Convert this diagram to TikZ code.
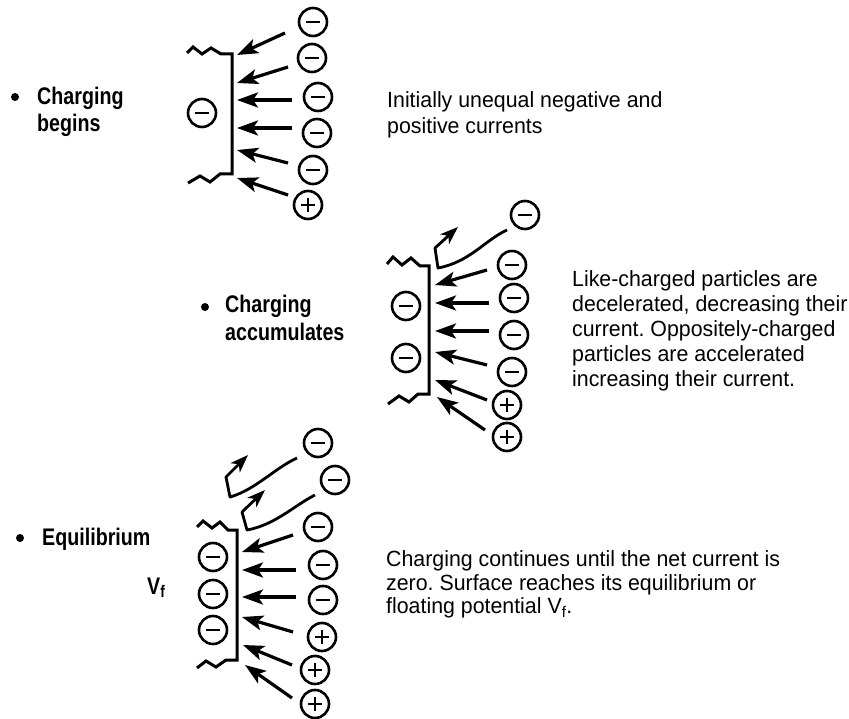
\documentclass[tikz,border=0pt]{standalone}
\usepackage{fontspec}
\setmainfont{Liberation Sans}
\newfontfamily\labfont{Liberation Sans}[FakeStretch=0.82]
\newfontfamily\descfont{Liberation Sans}[FakeStretch=0.97]
\usetikzlibrary{arrows.meta}
\frenchspacing
\begin{document}
\begin{tikzpicture}[x=1pt,y=-1pt,
  wall/.style={line width=3pt, line join=miter},
  flux/.style={line width=3.2pt, -{Stealth[length=21pt,width=15pt,inset=5pt]}},
  bounce/.style={line width=2.8pt, line join=round, -{Stealth[length=18pt,width=13pt,inset=5pt]}},
  negq/.style={circle, draw, line width=2.6pt, minimum size=28pt, inner sep=0pt,
    path picture={\draw[line width=2.3pt] ([xshift=-7pt]path picture bounding box.center) -- ([xshift=7pt]path picture bounding box.center);}},
  posq/.style={circle, draw, line width=2.6pt, minimum size=28pt, inner sep=0pt,
    path picture={\draw[line width=2.3pt] ([xshift=-7pt]path picture bounding box.center) -- ([xshift=7pt]path picture bounding box.center);
                  \draw[line width=2.3pt] ([yshift=-7pt]path picture bounding box.center) -- ([yshift=7pt]path picture bounding box.center);}},
  desc/.style={anchor=base west, inner sep=0pt, font=\descfont\fontsize{22}{26}\selectfont},
  lab/.style={anchor=base west, inner sep=0pt, font=\labfont\bfseries\fontsize{24}{28}\selectfont},
  dot/.style={circle, fill, inner sep=0pt, minimum size=8pt}
]
\useasboundingbox (0,0) rectangle (849,719);

% ---------------- Panel 1: charging begins ----------------
\draw[wall] (187,53) -- (193,47) -- (202,54) -- (211,48) -- (221,54) -- (232,54)
  -- (232,174) -- (220,174) -- (210,182) -- (200,176) -- (188,183);
\node[negq] (s1) at (202,113) {};
\node[negq] (c1a) at (313,22) {};
\node[negq] (c1b) at (312,58) {};
\node[negq] (c1c) at (318,97) {};
\node[negq] (c1d) at (317,133) {};
\node[negq] (c1e) at (313,170) {};
\node[posq] (c1f) at (308,205) {};
\foreach \i/\ax/\ay/\bx/\by in {1a/285/33/237/55, 1b/288/67/237/83,
    1c/292/100/237/100, 1d/292/128/237/128,
    1e/288/163/237/150, 1f/288/195/237/178}
  {\coordinate (f\i) at (\ax,\ay); \coordinate (t\i) at (\bx,\by); \draw[flux] (f\i) -- (t\i);}

\node[dot] (b1) at (15,97) {};
\node[lab] (l1a) at (37,105) {Charging};
\node[lab] (l1b) at (37,132) {begins};
\node[desc] (d1a) at (387,108) {Initially unequal negative and};
\node[desc] (d1b) at (387,134) {positive currents};

% ---------------- Panel 2: charging accumulates ----------------
\draw[wall] (387,264) -- (393,257) -- (402,265) -- (411,258) -- (420,266) -- (429,266)
  -- (429,394) -- (418,394) -- (409,402) -- (399,396) -- (388,404);
\node[negq] (s2a) at (406,306) {};
\node[negq] (s2b) at (406,358) {};
\node[negq] (c2a) at (525,215) {};
\node[negq] (c2b) at (512,265) {};
\node[negq] (c2c) at (514,298) {};
\node[negq] (c2d) at (514,335) {};
\node[negq] (c2e) at (512,372) {};
\node[posq] (c2f) at (507,405) {};
\node[posq] (c2g) at (507,437) {};
\coordinate (r2s) at (507,230);
\coordinate (r2m) at (438,268);
\coordinate (r2k) at (435,248);
\coordinate (r2e) at (458,227);
\draw[bounce] (r2s) .. controls (485,240) and (470,262) .. (r2m) -- (r2k) -- (r2e);
\foreach \i/\ax/\ay/\bx/\by in {2b/487/270/435/285, 2c/489/303/435/303,
    2d/489/331/435/331, 2e/487/365/435/352,
    2f/487/400/435/380, 2g/485/430/437/397}
  {\coordinate (f\i) at (\ax,\ay); \coordinate (t\i) at (\bx,\by); \draw[flux] (f\i) -- (t\i);}

\node[dot] (b2) at (205,307) {};
\node[lab] (l2a) at (225,313) {Charging};
\node[lab] (l2b) at (225,341) {accumulates};
\node[desc] (d2a) at (572,287) {Like-charged particles are};
\node[desc] (d2b) at (572,312) {decelerated, decreasing their};
\node[desc] (d2c) at (572,337) {current. Oppositely-charged};
\node[desc] (d2d) at (572,362) {particles are accelerated};
\node[desc] (d2e) at (572,387) {increasing their current.};

% ---------------- Panel 3: equilibrium ----------------
\draw[wall] (197,527) -- (203,521) -- (212,528) -- (220,522) -- (228,530) -- (237,530)
  -- (237,660) -- (226,660) -- (216,667) -- (206,661) -- (197,668);
\node[negq] (s3a) at (213,557) {};
\node[negq] (s3b) at (213,594) {};
\node[negq] (s3c) at (213,630) {};
\node[negq] (c3a) at (318,443) {};
\node[negq] (c3b) at (335,480) {};
\node[negq] (c3c) at (318,527) {};
\node[negq] (c3d) at (323,565) {};
\node[negq] (c3e) at (323,600) {};
\node[posq] (c3f) at (322,637) {};
\node[posq] (c3g) at (315,670) {};
\node[posq] (c3h) at (315,704) {};
\coordinate (r3as) at (297,458);
\coordinate (r3am) at (230,497);
\coordinate (r3ak) at (226,477);
\coordinate (r3ae) at (248,455);
\draw[bounce] (r3as) .. controls (275,468) and (255,490) .. (r3am) -- (r3ak) -- (r3ae);
\coordinate (r3bs) at (315,495);
\coordinate (r3bm) at (247,530);
\coordinate (r3bk) at (242,512);
\coordinate (r3be) at (265,490);
\draw[bounce] (r3bs) .. controls (295,505) and (275,525) .. (r3bm) -- (r3bk) -- (r3be);
\foreach \i/\ax/\ay/\bx/\by in {3c/293/535/242/552, 3d/296/570/242/570,
    3e/296/597/242/597, 3f/293/632/242/617,
    3g/292/665/243/645, 3h/292/698/245/665}
  {\coordinate (f\i) at (\ax,\ay); \coordinate (t\i) at (\bx,\by); \draw[flux] (f\i) -- (t\i);}

\node[dot] (b3) at (20,538) {};
\node[lab] (l3a) at (42,545) {Equilibrium};
\node[lab] (vf) at (147,594) {V\textsubscript{f}};
\node[desc] (d3a) at (386,566) {Charging continues until the net current is};
\node[desc] (d3b) at (386,590) {zero. Surface reaches its equilibrium or};
\node[desc] (d3c) at (386,613) {floating potential V\textsubscript{f}.};
\end{tikzpicture}
\end{document}
